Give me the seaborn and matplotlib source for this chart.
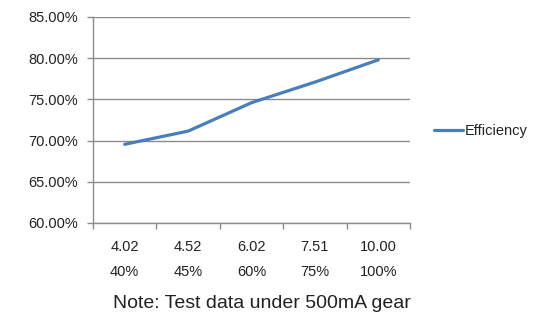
import matplotlib
matplotlib.use("Agg")
import matplotlib.pyplot as plt
import seaborn as sns
import pandas as pd
from matplotlib.ticker import FixedLocator, FuncFormatter

voltages = ["4.02", "4.52", "6.02", "7.51", "10.00"]
percents = ["40%", "45%", "60%", "75%", "100%"]
efficiency = [69.55, 71.15, 74.6, 77.1, 79.8]
series_name = "Efficiency"
note = "Note: Test data under 500mA gear"

sns.set_theme(style="white")
plt.rcParams['font.family'] = ['Liberation Sans', 'DejaVu Sans']

df = pd.DataFrame({"cat": [f"{v}\n{p}" for v, p in zip(voltages, percents)],
                   "eff": efficiency,
                   "series": series_name})

fig = plt.figure(figsize=(5.36, 3.15), dpi=100)
ax = fig.add_axes([93/536, 1-223/315, (410-93)/536, (223-17)/315])

sns.lineplot(data=df, x="cat", y="eff", hue="series", palette=["#4a7ebb"],
             linewidth=2.3, ax=ax, sort=False)

ax.set_ylim(60, 85)
ax.set_xlim(-0.5, len(voltages) - 0.5)
ax.set_yticks([60, 65, 70, 75, 80, 85])
ax.yaxis.set_major_formatter(FuncFormatter(lambda v, p: f"{v:.2f}%"))
ax.grid(axis="y", color="#8c8c8c", linewidth=1.0)
ax.grid(axis="x", visible=False)
ax.set_axisbelow(True)
ax.set_xlabel("")
ax.set_ylabel("")

for s in ["top", "right"]:
    ax.spines[s].set_visible(False)
for s in ["left", "bottom"]:
    ax.spines[s].set_color("#8c8c8c")
    ax.spines[s].set_linewidth(1.0)

ax.tick_params(axis="y", which="major", left=True, length=4.3, width=1,
               color="#8c8c8c", labelsize=10.5, labelcolor="#222222", pad=6.5)
# category boundary ticks on x
ax.xaxis.set_minor_locator(FixedLocator([i - 0.5 for i in range(len(voltages) + 1)]))
ax.tick_params(axis="x", which="minor", bottom=True, length=4.3, width=1, color="#8c8c8c")
ax.tick_params(axis="x", which="major", bottom=False, labelsize=10.5,
               labelcolor="#222222", pad=6)
for lab in ax.get_xticklabels():
    lab.set_linespacing(2.05)

leg = ax.legend(frameon=False, loc="center left", bbox_to_anchor=(428/536, 1-131/315),
                bbox_transform=fig.transFigure, fontsize=10.5, handlelength=2.0,
                handletextpad=0.15, borderaxespad=0)
for t in leg.get_texts():
    t.set_color("#222222")

fig.text(262/536, 1-303/315, note, ha="center", va="center", fontsize=14, color="#222222")

fig.savefig("out.png", dpi=100)
